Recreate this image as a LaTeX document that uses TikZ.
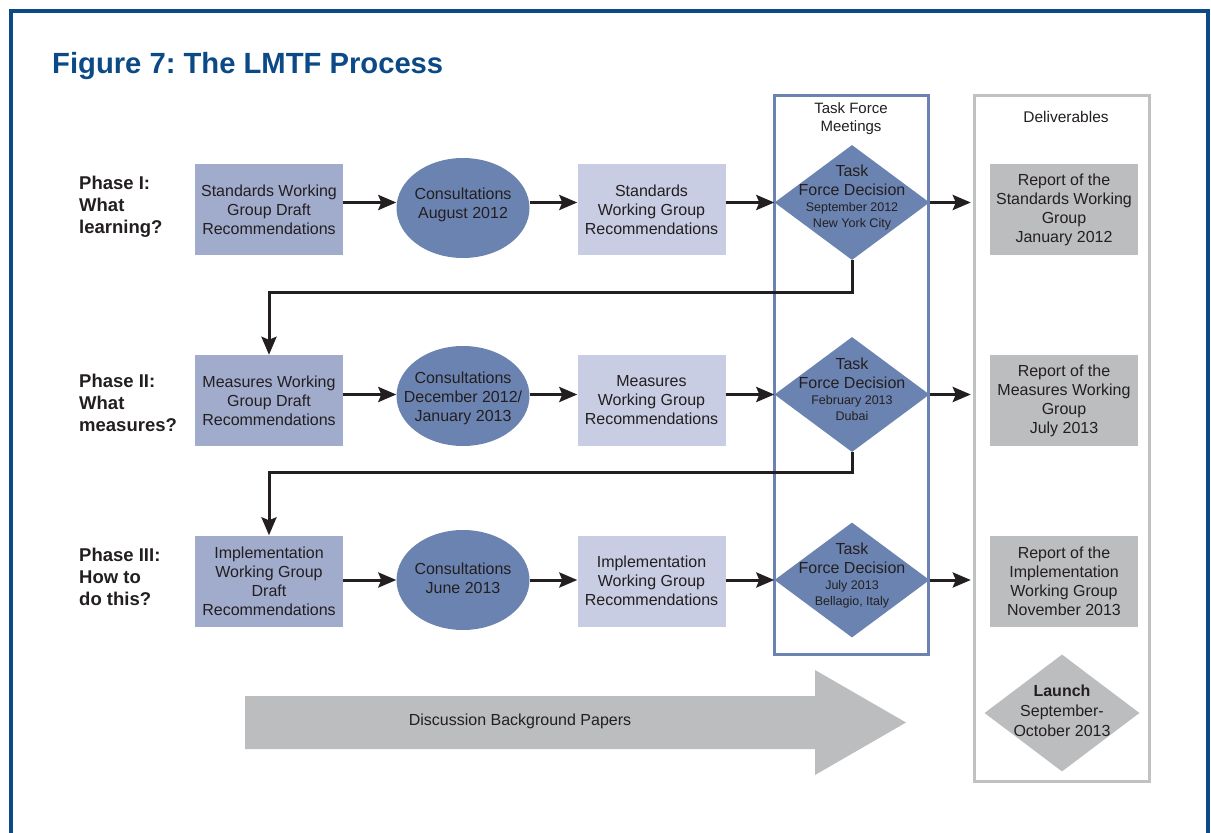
\documentclass[tikz,border=0pt]{standalone}
\usepackage{fontspec}
\setmainfont{Liberation Sans}
\usetikzlibrary{shapes.geometric,arrows.meta}
\frenchspacing
\definecolor{frameblue}{HTML}{0B4A87}
\definecolor{draftfill}{HTML}{A1ABCC}
\definecolor{recfill}{HTML}{C8CDE3}
\definecolor{midblue}{HTML}{6B83B1}
\definecolor{greyfill}{HTML}{BCBDBF}
\definecolor{greyline}{HTML}{C0C1C3}
\definecolor{ink}{HTML}{231F20}
\tikzset{
  boxtext/.style={font=\fontsize{16}{19}\selectfont, text=ink, align=center, inner sep=0pt},
  plainbox/.style={rectangle, minimum width=148pt, minimum height=91pt, inner sep=0pt, boxtext},
  draftbox/.style={plainbox, fill=draftfill},
  recbox/.style={plainbox, fill=recfill},
  delbox/.style={plainbox, fill=greyfill},
  consult/.style={ellipse, fill=midblue, minimum width=133pt, minimum height=100pt, inner sep=0pt},
  decision/.style={diamond, fill=midblue, minimum width=155pt, minimum height=115pt, inner sep=0pt},
  dtext/.style={font=\fontsize{16}{19}\selectfont, text=ink, align=center, inner sep=0pt},
  flow/.style={line width=3pt, draw=ink, -{Stealth[length=18pt,width=15pt,inset=3pt]}},
  phase/.style={font=\fontsize{18.5}{22}\selectfont\bfseries, text=ink, align=left, anchor=west, inner sep=0pt},
  header/.style={font=\fontsize{15}{18}\selectfont, text=ink, align=center, inner sep=0pt},
}
\newcommand{\smalldate}{\fontsize{12.5}{16}\selectfont}
\begin{document}
\begin{tikzpicture}[x=1pt,y=-1pt]
\useasboundingbox (0,0) rectangle (1211,833);
\fill[white] (0,0) rectangle (1211,833);
% outer frame
\draw[frameblue, line width=3.5pt] (11,850) -- (11,11) -- (1208,11) -- (1208,850);
% title
\node[anchor=base west, font=\fontsize{29.2}{34}\selectfont\bfseries, text=frameblue, inner sep=0pt] (title) at (52,73) {Figure 7: The LMTF Process};
% column frames
\draw[midblue, line width=3pt] (774.5,95.5) rectangle (928.5,654);
\draw[greyline, line width=3pt] (974.5,95.5) rectangle (1149.5,781);
\node[header] (tfh) at (851,119) {Task Force\\Meetings};
\node[header, font=\fontsize{15.5}{18}\selectfont] (delh) at (1066,117) {Deliverables};
% phase labels
\node[phase] (p1) at (79,207) {Phase I:\\What\\learning?};
\node[phase] (p2) at (79,403) {Phase II:\\What\\measures?};
\node[phase] (p3) at (79,577) {Phase III:\\How to\\do this?};
% row 1
\node[draftbox] (b1) at (269,209.5) {Standards Working\\Group Draft\\Recommendations};
\node[consult] (c1) at (463,208) {};
\node[boxtext] (c1t) at (463,205) {Consultations\\August 2012};
\node[recbox] (r1) at (651.5,209.5) {Standards\\Working Group\\Recommendations};
\node[decision] (d1) at (852,202.5) {};
\node[dtext] (d1t) at (852,197.5) {Task\\Force Decision\\[-3pt]\smalldate September 2012\\[-3pt]\smalldate New York City};
\node[delbox] (e1) at (1064,209.5) {Report of the\\Standards Working\\Group\\January 2012};
% row 2
\node[draftbox] (b2) at (269,400.5) {Measures Working\\Group Draft\\Recommendations};
\node[consult] (c2) at (463,396) {};
\node[boxtext] (c2t) at (463,398) {Consultations\\December 2012/\\January 2013};
\node[recbox] (r2) at (651.5,400.5) {Measures\\Working Group\\Recommendations};
\node[decision] (d2) at (852,394.5) {};
\node[dtext] (d2t) at (852,389.5) {Task\\Force Decision\\[-3pt]\smalldate February 2013\\[-3pt]\smalldate Dubai};
\node[delbox] (e2) at (1064,400.5) {Report of the\\Measures Working\\Group\\July 2013};
% row 3
\node[draftbox] (b3) at (269,581) {Implementation\\Working Group\\Draft\\Recommendations};
\node[consult] (c3) at (463,580) {};
\node[boxtext] (c3t) at (463,578) {Consultations\\June 2013};
\node[recbox] (r3) at (651.5,581) {Implementation\\Working Group\\Recommendations};
\node[decision] (d3) at (852,580) {};
\node[dtext] (d3t) at (852,575) {Task\\Force Decision\\[-3pt]\smalldate July 2013\\[-3pt]\smalldate Bellagio, Italy};
\node[delbox] (e3) at (1064,581) {Report of the\\Implementation\\Working Group\\November 2013};
% flow arrows
\foreach \r in {1,2,3}{
  \draw[flow] (b\r.east |- d\r) -- (c\r.west |- d\r);
  \draw[flow] (c\r.east |- d\r) -- (r\r.west |- d\r);
  \draw[flow] (r\r.east |- d\r) -- (d\r.west);
  \draw[flow, shorten >=19pt] (d\r.east) -- (e\r.west |- d\r);
}
\draw[flow] (d1.south) -- ++(0,32) -| (b2.north);
\draw[flow] (d2.south) -- ++(0,20) -| (b3.north);
% background papers arrow
\fill[greyfill] (245,696) -- (815,696) -- (815,670) -- (906,722.5) -- (815,775) -- (815,749) -- (245,749) -- cycle;
\node[font=\fontsize{16}{18}\selectfont, text=ink, inner sep=0pt] (bg) at (520,721) {Discussion Background Papers};
% launch
\node[diamond, fill=greyfill, minimum width=155pt, minimum height=117pt, inner sep=0pt] (launch) at (1062,713) {};
\node[dtext, font=\fontsize{16}{20}\selectfont] (launcht) at (1062,711) {\textbf{Launch}\\September-\\October 2013};
\end{tikzpicture}
\end{document}
